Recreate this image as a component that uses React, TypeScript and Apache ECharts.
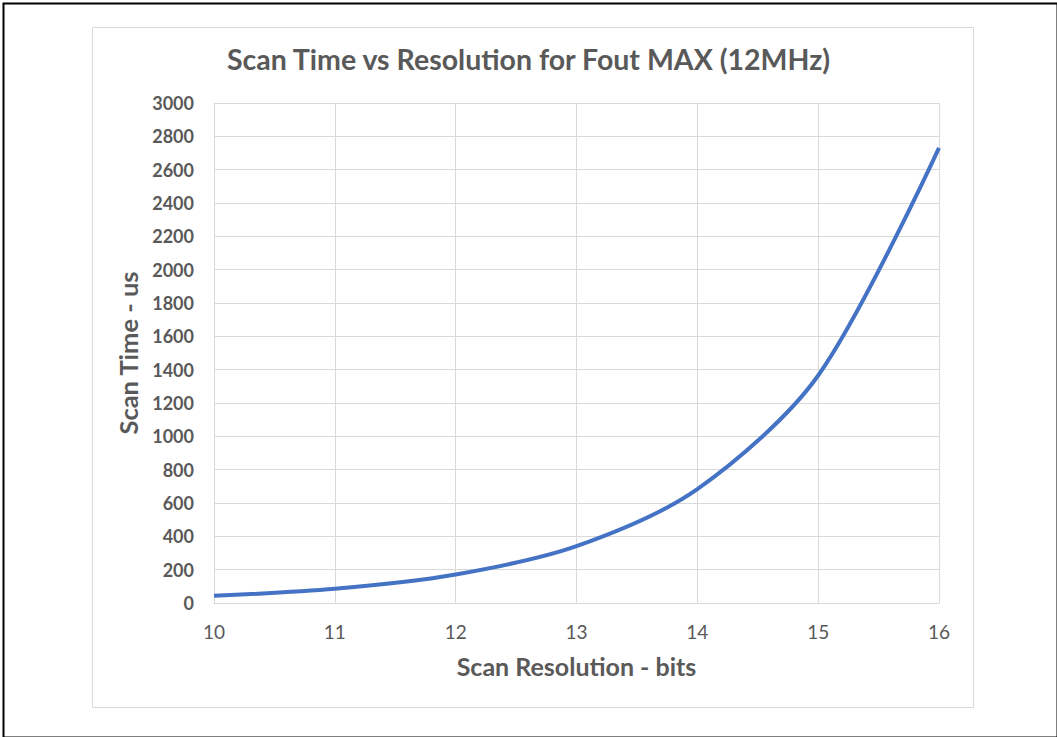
import React, { useEffect, useRef } from "react";
import * as echarts from "echarts";

const resolutionBits = [10, 11, 12, 13, 14, 15, 16];
const scanTimeUs = [43, 85, 171, 341, 683, 1365, 2731];
const yTicks = { min: 0, max: 3000, interval: 200 };
const xTicks = { min: 10, max: 16, interval: 1 };

const FONT = "Lato, 'Open Sans', sans-serif";
const TEXT = "#595959";

export default function App() {
  const ref = useRef<HTMLDivElement>(null);
  useEffect(() => {
    if (!ref.current) return;
    const chart = echarts.init(ref.current, null, { renderer: "svg" });
    chart.setOption({
      animation: false,
      backgroundColor: "#ffffff",
      title: {
        text: "Scan Time vs Resolution for Fout MAX (12MHz)",
        left: "center",
        top: 39,
        textStyle: { fontFamily: FONT, fontSize: 28.5, fontWeight: "bold", color: TEXT },
      },
      graphic: [
        {
          type: "rect",
          left: 1,
          top: 1,
          shape: { width: 1054, height: 734 },
          style: { fill: "none", stroke: "#000", lineWidth: 2 },
          silent: true,
        },
        {
          type: "rect",
          left: 90,
          top: 25,
          shape: { width: 881, height: 680 },
          style: { fill: "none", stroke: "#d9d9d9", lineWidth: 1 },
          silent: true,
        },
      ],
      grid: { left: 214, right: 118, top: 103, bottom: 134, containLabel: false },
      xAxis: {
        type: "value",
        min: xTicks.min,
        max: xTicks.max,
        interval: xTicks.interval,
        name: "Scan Resolution - bits",
        nameLocation: "middle",
        nameGap: 50,
        nameTextStyle: { fontFamily: FONT, fontSize: 25, fontWeight: "bold", color: TEXT },
        axisLine: { show: true, lineStyle: { color: "#d9d9d9", width: 1 } },
        axisTick: { show: false },
        axisLabel: { fontFamily: FONT, fontSize: 19, color: TEXT, margin: 19 },
        splitLine: { show: true, lineStyle: { color: "#d9d9d9", width: 1 } },
      },
      yAxis: {
        type: "value",
        min: yTicks.min,
        max: yTicks.max,
        interval: yTicks.interval,
        name: "Scan Time - us",
        nameLocation: "middle",
        nameGap: 70,
        nameTextStyle: { fontFamily: FONT, fontSize: 25.5, fontWeight: "bold", color: TEXT },
        axisLine: { show: true, lineStyle: { color: "#d9d9d9", width: 1 } },
        axisTick: { show: false },
        axisLabel: {
          fontFamily: FONT,
          fontSize: 18,
          fontWeight: "bold",
          color: TEXT,
          margin: 20,
          formatter: (v: number) => String(v),
        },
        splitLine: { show: true, lineStyle: { color: "#d9d9d9", width: 1 } },
      },
      series: [
        {
          type: "line",
          data: resolutionBits.map((x, i) => [x, scanTimeUs[i]]),
          smooth: 0.3,
          showSymbol: false,
          lineStyle: { color: "#4472C4", width: 4 },
        },
      ],
    });
    return () => chart.dispose();
  }, []);
  return (
    <div
      ref={ref}
      style={{ position: "fixed", left: 0, top: 0, width: 1057, height: 737 }}
    />
  );
}
